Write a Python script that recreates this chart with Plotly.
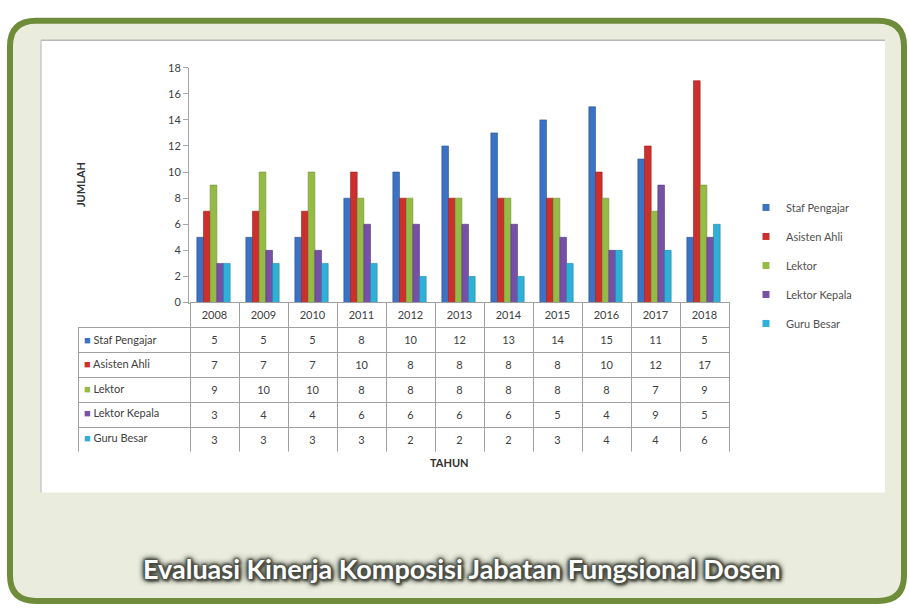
import plotly.graph_objects as go

W, H = 909, 610

years = ["2008", "2009", "2010", "2011", "2012", "2013", "2014", "2015", "2016", "2017", "2018"]
series_names = ["Staf Pengajar", "Asisten Ahli", "Lektor", "Lektor Kepala", "Guru Besar"]
staf_pengajar = [5, 5, 5, 8, 10, 12, 13, 14, 15, 11, 5]
asisten_ahli = [7, 7, 7, 10, 8, 8, 8, 8, 10, 12, 17]
lektor = [9, 10, 10, 8, 8, 8, 8, 8, 8, 7, 9]
lektor_kepala = [3, 4, 4, 6, 6, 6, 6, 5, 4, 9, 5]
guru_besar = [3, 3, 3, 3, 2, 2, 2, 3, 4, 4, 6]
y_ticks = [0, 2, 4, 6, 8, 10, 12, 14, 16, 18]

series_values = [staf_pengajar, asisten_ahli, lektor, lektor_kepala, guru_besar]
colors = ["#3b72c4", "#cc2f2c", "#95bb45", "#7650a6", "#2fb0d6"]
edge_colors = ["#2a5496", "#9a1f1d", "#6f8d30", "#563a7c", "#1f84a3"]

FONT = "Lato, Open Sans, sans-serif"
TXT = "#404040"


def px(x):
    return x / W


def py(y):
    return 1 - y / H


fig = go.Figure()

for name, vals, c, ec in zip(series_names, series_values, colors, edge_colors):
    fig.add_trace(go.Bar(
        x=years, y=vals, name=name, marker=dict(color=c, line=dict(color=ec, width=0.6)),
        showlegend=False, legendgroup=name, xaxis="x", yaxis="y",
    ))
    fig.add_trace(go.Scatter(
        x=[None], y=[None], mode="markers", name=name, legendgroup=name,
        marker=dict(symbol="square", size=7, color=c), xaxis="x", yaxis="y",
    ))

# data table below the chart (label column text added as annotations to colour the keys)
table_left, table_top, label_w, col_w, row_h = 78, 302, 112, 49, 25
n_rows = len(series_names) + 1
header_vals = [""] + years
cell_cols = [[""] * len(series_names)] + [[str(v[i]) for v in series_values] for i in range(len(years))]

fig.add_trace(go.Table(
    domain=dict(x=[px(table_left), px(table_left + label_w + col_w * len(years))],
                y=[py(table_top + row_h * n_rows + 3), py(table_top)]),
    columnwidth=[label_w] + [col_w] * len(years),
    header=dict(
        values=header_vals, height=row_h,
        fill=dict(color=["rgba(0,0,0,0)"] + ["white"] * len(years)),
        line=dict(color=["rgba(0,0,0,0)"] + ["#a0a0a0"] * len(years), width=1),
        font=dict(family=FONT, size=11, color=TXT),
        align="center",
    ),
    cells=dict(
        values=cell_cols, height=row_h,
        fill=dict(color="white"),
        line=dict(color="#a0a0a0", width=1),
        font=dict(family=FONT, size=11, color=TXT),
        align="center",
    ),
))

label_annotations = []
for i, (n, c) in enumerate(zip(series_names, colors)):
    yc = table_top + row_h * (i + 1) + row_h / 2
    label_annotations.append(dict(
        text=f'<span style="color:{c}">■</span> {n}', x=px(table_left + 4), y=py(yc),
        xref="paper", yref="paper", xanchor="left", yanchor="middle", showarrow=False,
        font=dict(family=FONT, size=11, color=TXT),
    ))

gray_line = "#a6a6a6"
rx, ry = 26 / W, 26 / H
x0, x1, y0, y1 = px(10), px(904), py(607), py(14)
frame_path = (
    f"M{x0 + rx},{y1} L{x1 - rx},{y1} Q{x1},{y1} {x1},{y1 - ry} "
    f"L{x1},{y0 + ry} Q{x1},{y0} {x1 - rx},{y0} "
    f"L{x0 + rx},{y0} Q{x0},{y0} {x0},{y0 + ry} "
    f"L{x0},{y1 - ry} Q{x0},{y1} {x0 + rx},{y1} Z"
)

glow = ", ".join(["0 0 3px #4a4d44"] * 4 + ["0 0 6px #4a4d44"] * 3 + ["2px 2px 3px #2e302a"])

fig.update_layout(
    width=W, height=H,
    margin=dict(l=0, r=0, t=0, b=0),
    paper_bgcolor="white",
    plot_bgcolor="rgba(0,0,0,0)",
    barmode="group",
    bargap=0.32,
    bargroupgap=0.0,
    font=dict(family=FONT, size=11, color=TXT),
    xaxis=dict(
        domain=[px(189), px(728)], anchor="y",
        showticklabels=False, ticks="", showgrid=False,
        showline=True, linecolor=gray_line, linewidth=1,
        fixedrange=True,
    ),
    yaxis=dict(
        domain=[py(302), py(62)], anchor="x",
        range=[0, 18], tickvals=y_ticks,
        ticks="outside", ticklen=5, tickcolor=gray_line,
        showline=True, linecolor=gray_line, linewidth=1,
        showgrid=False, zeroline=False,
        tickfont=dict(size=11, color=TXT),
        fixedrange=True,
    ),
    legend=dict(
        x=px(746), y=py(190), xanchor="left", yanchor="top",
        bgcolor="rgba(0,0,0,0)", font=dict(size=11, color="#505050"),
        tracegroupgap=10, itemwidth=30,
    ),
    shapes=[
        dict(type="path", xref="paper", yref="paper", path=frame_path,
             fillcolor="#eaeddd", line=dict(color="#6f8c3b", width=6), layer="below"),
        dict(type="rect", xref="paper", yref="paper", x0=px(41), x1=px(885), y0=py(496), y1=py(34),
             fillcolor="white", line=dict(width=0), layer="below"),
        dict(type="line", xref="paper", yref="paper", x0=px(41), x1=px(885), y0=py(34), y1=py(34),
             line=dict(color="#b8b8b8", width=1.5), layer="below"),
        dict(type="line", xref="paper", yref="paper", x0=px(41), x1=px(41), y0=py(496), y1=py(34),
             line=dict(color="#c8c8c8", width=1.5), layer="below"),
    ],
    annotations=label_annotations + [
        dict(text="<b>JUMLAH</b>", x=px(80), y=py(182), xref="paper", yref="paper",
             xanchor="center", yanchor="middle",
             showarrow=False, textangle=-90, font=dict(size=11, color="#303030")),
        dict(text="<b>TAHUN</b>", x=px(449), y=py(465), xref="paper", yref="paper",
             xanchor="center", yanchor="middle",
             showarrow=False, font=dict(size=11, color="#303030")),
        dict(text="<b>Evaluasi Kinerja Komposisi Jabatan Fungsional Dosen</b>",
             x=px(462), y=py(574), xref="paper", yref="paper", showarrow=False,
             xanchor="center", yanchor="middle",
             font=dict(size=27, color="white", family=FONT, shadow=glow)),
    ],
)

fig.write_html("out.html")
